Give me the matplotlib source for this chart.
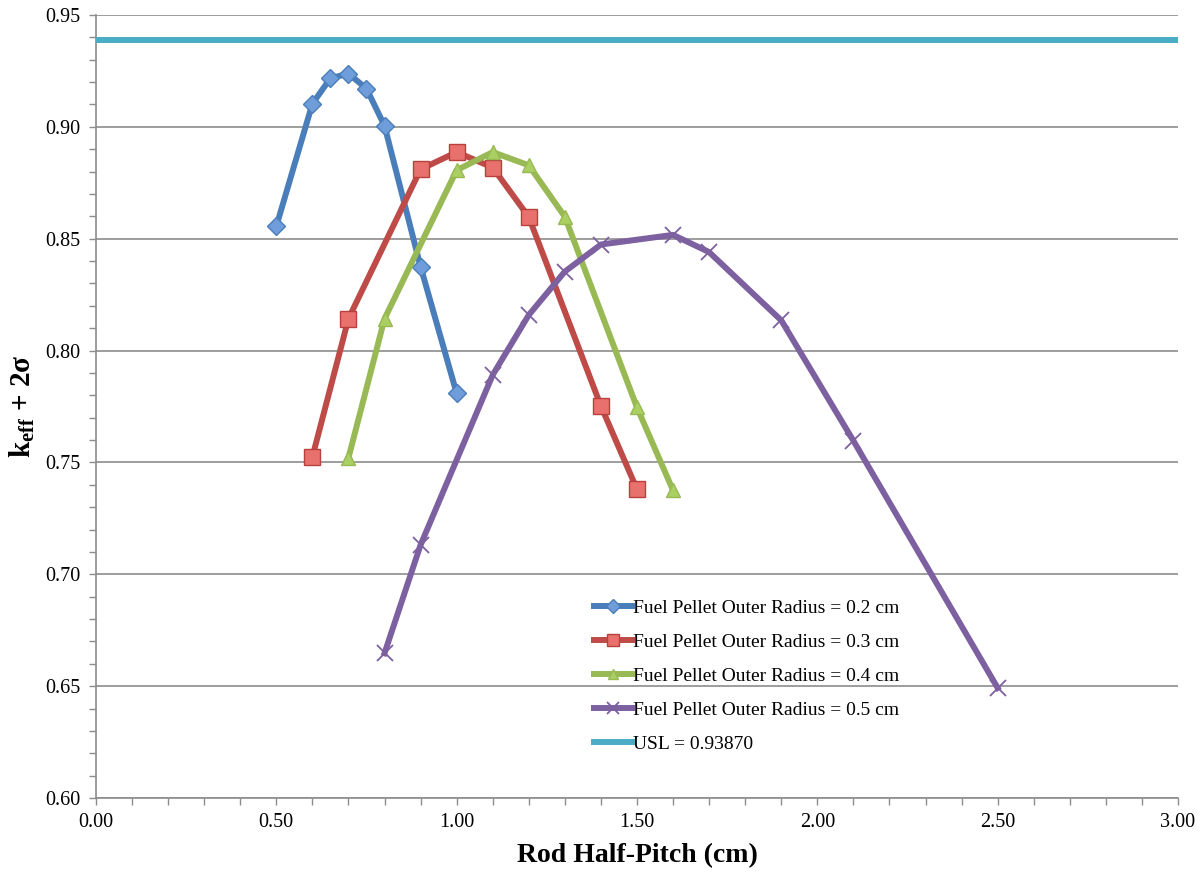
# keff + 2 sigma vs rod half-pitch for several fuel pellet radii

import matplotlib
matplotlib.use("Agg")
import matplotlib.pyplot as plt
from matplotlib.ticker import MultipleLocator, FormatStrFormatter

# data
x_r02 = [0.50, 0.60, 0.65, 0.70, 0.75, 0.80, 0.90, 1.00]
k_r02 = [0.8555, 0.9103, 0.9217, 0.9238, 0.9171, 0.9005, 0.8375, 0.7809]

x_r03 = [0.60, 0.70, 0.90, 1.00, 1.10, 1.20, 1.40, 1.50]
k_r03 = [0.7524, 0.8142, 0.8810, 0.8887, 0.8818, 0.8597, 0.7752, 0.7380]

x_r04 = [0.70, 0.80, 1.00, 1.10, 1.20, 1.30, 1.50, 1.60]
k_r04 = [0.7520, 0.8142, 0.8806, 0.8887, 0.8828, 0.8598, 0.7746, 0.7375]

x_r05 = [0.80, 0.90, 1.10, 1.20, 1.30, 1.40, 1.60, 1.70, 1.90, 2.10, 2.50]
k_r05 = [0.6647, 0.7131, 0.7891, 0.8159, 0.8353, 0.8474, 0.8517, 0.8440, 0.8135, 0.7597, 0.6492]

usl = 0.93870
x_limits = [0.0, 3.0]

plt.rcParams['font.family'] = ['Liberation Serif', 'DejaVu Serif']
plt.rcParams['mathtext.fontset'] = 'custom'
plt.rcParams['mathtext.rm'] = 'Liberation Serif'
plt.rcParams['mathtext.bf'] = 'Liberation Serif:bold'

fig = plt.figure(figsize=(12.04, 8.75), dpi=100)
ax = fig.add_axes([0.0797, 0.088, 0.8987, 0.8949])

lw = 4.3
ax.plot(x_r02, k_r02, color='#4A7EBB', lw=lw, marker='D', ms=9,
        mfc='#6E9DD9', mec='#4A7EBB', mew=1, label='Fuel Pellet Outer Radius = 0.2 cm', zorder=3)
ax.plot(x_r03, k_r03, color='#BE4B48', lw=lw, marker='s', ms=11,
        mfc='#E8716E', mec='#B8403D', mew=1, label='Fuel Pellet Outer Radius = 0.3 cm', zorder=3)
ax.plot(x_r04, k_r04, color='#98B954', lw=lw, marker='^', ms=10,
        mfc='#AACF62', mec='#98B954', mew=1, label='Fuel Pellet Outer Radius = 0.4 cm', zorder=3)
ax.plot(x_r05, k_r05, color='#7D60A0', lw=lw, marker='x', ms=12,
        mec='#7D60A0', mew=1.3, label='Fuel Pellet Outer Radius = 0.5 cm', zorder=3)
ax.plot(x_limits, [usl, usl], color='#4BACC6', lw=lw, label='USL = 0.93870', zorder=3)

ax.set_xlim(0, 3.0)
ax.set_ylim(0.60, 0.95)
ax.xaxis.set_major_locator(MultipleLocator(0.5))
ax.xaxis.set_minor_locator(MultipleLocator(0.1))
ax.yaxis.set_major_locator(MultipleLocator(0.05))
ax.yaxis.set_minor_locator(MultipleLocator(0.01))
ax.xaxis.set_major_formatter(FormatStrFormatter('%.2f'))
ax.yaxis.set_major_formatter(FormatStrFormatter('%.2f'))

ax.grid(axis='y', which='major', color='#8C8C8C', lw=1.2, zorder=0)
for s in ['top', 'right']:
    ax.spines[s].set_visible(False)
for s in ['left', 'bottom']:
    ax.spines[s].set_color('#8C8C8C')
    ax.spines[s].set_linewidth(1.2)
ax.tick_params(which='both', direction='out', color='#8C8C8C', width=1, length=5)
ax.tick_params(axis='both', labelsize=14.5, pad=6)

ax.set_xlabel('Rod Half-Pitch (cm)', fontsize=20, fontweight='bold', labelpad=8)
ax.set_ylabel(r'k$_{\mathbf{eff}}$ + 2σ', fontsize=21, fontweight='bold', labelpad=6)

leg = ax.legend(loc='upper left', bbox_to_anchor=(0.451, 0.266), frameon=False,
                fontsize=14, handlelength=1.95, handletextpad=0.05, labelspacing=0.84,
                borderpad=0, markerscale=0.75)

fig.savefig('out.png', dpi=100)
